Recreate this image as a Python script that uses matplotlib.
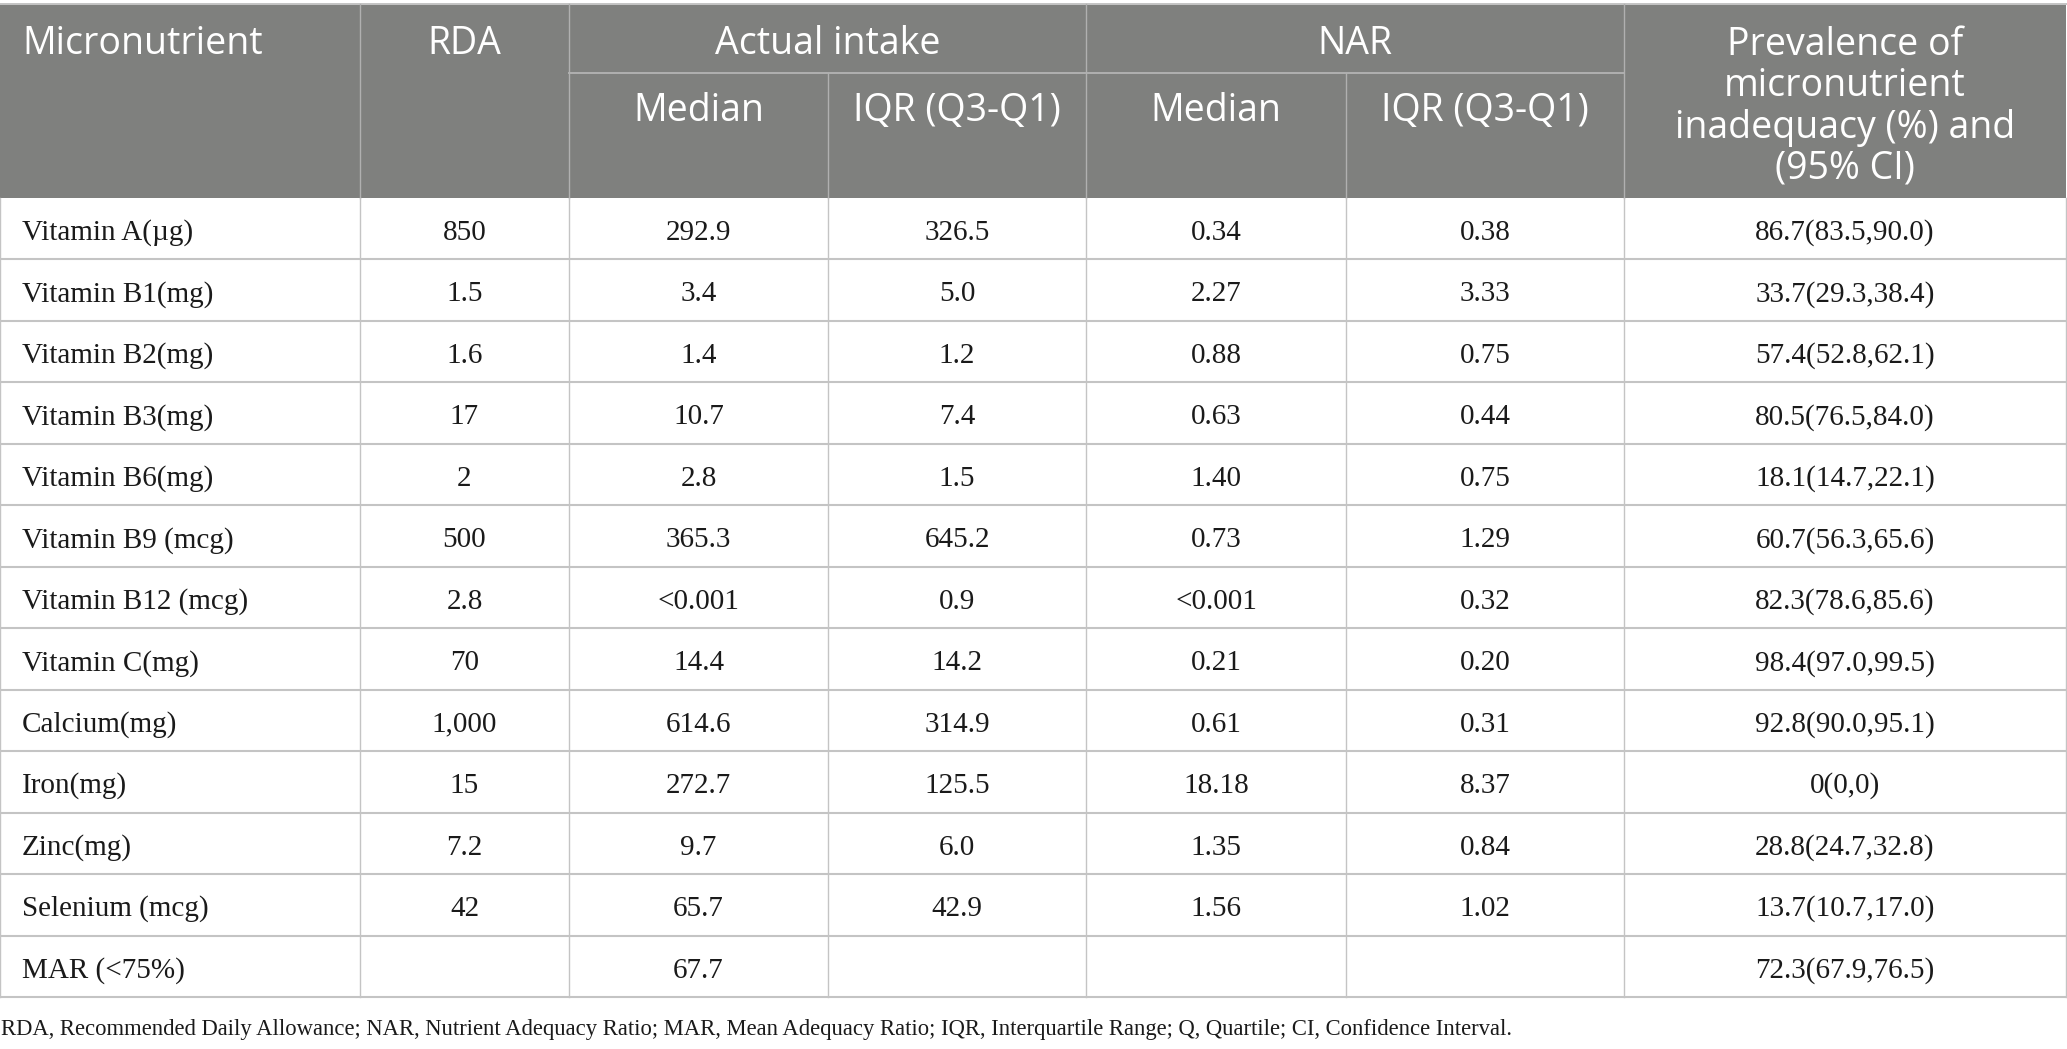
import matplotlib
matplotlib.use("Agg")
from matplotlib import pyplot as plt
from matplotlib.patches import Rectangle

# table content
nutrients = ["Vitamin A(\u00b5g)", "Vitamin B1(mg)", "Vitamin B2(mg)", "Vitamin B3(mg)", "Vitamin B6(mg)",
             "Vitamin B9 (mcg)", "Vitamin B12 (mcg)", "Vitamin C(mg)", "Calcium(mg)", "Iron(mg)",
             "Zinc(mg)", "Selenium (mcg)", "MAR (<75%)"]
rda = ["850", "1.5", "1.6", "17", "2", "500", "2.8", "70", "1,000", "15", "7.2", "42", ""]
intake_median = ["292.9", "3.4", "1.4", "10.7", "2.8", "365.3", "<0.001", "14.4", "614.6", "272.7", "9.7", "65.7", "67.7"]
intake_iqr = ["326.5", "5.0", "1.2", "7.4", "1.5", "645.2", "0.9", "14.2", "314.9", "125.5", "6.0", "42.9", ""]
nar_median = ["0.34", "2.27", "0.88", "0.63", "1.40", "0.73", "<0.001", "0.21", "0.61", "18.18", "1.35", "1.56", ""]
nar_iqr = ["0.38", "3.33", "0.75", "0.44", "0.75", "1.29", "0.32", "0.20", "0.31", "8.37", "0.84", "1.02", ""]
prevalence = ["86.7(83.5,90.0)", "33.7(29.3,38.4)", "57.4(52.8,62.1)", "80.5(76.5,84.0)", "18.1(14.7,22.1)",
              "60.7(56.3,65.6)", "82.3(78.6,85.6)", "98.4(97.0,99.5)", "92.8(90.0,95.1)", "0(0,0)",
              "28.8(24.7,32.8)", "13.7(10.7,17.0)", "72.3(67.9,76.5)"]

group_labels = ["Actual intake", "NAR"]
sub_labels = ["Median", "IQR (Q3-Q1)", "Median", "IQR (Q3-Q1)"]
prev_header = ["Prevalence of", "micronutrient", "inadequacy (%) and", "(95% CI)"]
footnote = ("RDA, Recommended Daily Allowance; NAR, Nutrient Adequacy Ratio; MAR, Mean Adequacy Ratio; "
            "IQR, Interquartile Range; Q, Quartile; CI, Confidence Interval.")

# layout in pixels
W, H = 2067, 1049
col_x = [0, 360, 569, 828, 1086, 1346, 1624, 2066]
head_top, head_mid, head_bot = 4, 73, 198
table_bot = 997
row_h = (table_bot - head_bot) / len(nutrients)

HEAD_GRAY = "#7f807e"
LINE = "#c4c4c4"
HEAD_LINE = "#b0b0b0"
head_font = dict(family=["Open Sans", "DejaVu Sans"], fontsize=27, color="white")
body_font = dict(family=["Liberation Serif", "DejaVu Serif"], fontsize=21, color="#1a1a1a")

fig = plt.figure(figsize=(W / 100, H / 100), dpi=100)
ax = fig.add_axes([0, 0, 1, 1])
ax.set_xlim(0, W)
ax.set_ylim(H, 0)
ax.axis("off")

# header block
ax.add_patch(Rectangle((0, head_top), col_x[-1], head_bot - head_top, color=HEAD_GRAY, lw=0))
ax.plot([0, col_x[-1]], [head_top, head_top], color=LINE, lw=1.4)
for x in col_x[1:-1]:
    if x in (828, 1346):
        ax.plot([x, x], [head_mid, head_bot], color=HEAD_LINE, lw=1.0)
    else:
        ax.plot([x, x], [head_top, head_bot], color=HEAD_LINE, lw=1.0)
ax.plot([col_x[2], col_x[6]], [head_mid, head_mid], color=HEAD_LINE, lw=1.4)

ax.text(22, 54, "Micronutrient", ha="left", va="baseline", **head_font)
ax.text((col_x[1] + col_x[2]) / 2, 54, "RDA", ha="center", va="baseline", **head_font)
for i, lab in enumerate(group_labels):
    xc = (col_x[2 + 2 * i] + col_x[4 + 2 * i]) / 2
    ax.text(xc, 54, lab, ha="center", va="baseline", **head_font)
for i, lab in enumerate(sub_labels):
    xc = (col_x[2 + i] + col_x[3 + i]) / 2
    ax.text(xc, 121, lab, ha="center", va="baseline", **head_font)
for i, lab in enumerate(prev_header):
    ax.text((col_x[6] + col_x[7]) / 2, 55 + 41.3 * i, lab, ha="center", va="baseline", **head_font)

# body
columns = [rda, intake_median, intake_iqr, nar_median, nar_iqr, prevalence]
for r in range(len(nutrients)):
    top = head_bot + r * row_h
    base = top + 42
    ax.text(22, base, nutrients[r], ha="left", va="baseline", **body_font)
    for c, col in enumerate(columns):
        xc = (col_x[c + 1] + col_x[c + 2]) / 2
        ax.text(xc, base, col[r], ha="center", va="baseline", **body_font)
    ax.plot([0, col_x[-1]], [top + row_h, top + row_h], color=LINE, lw=1.5)

for x in col_x:
    ax.plot([x, x], [head_bot, table_bot], color=LINE, lw=1.0)

ax.text(1, 1035, footnote, ha="left", va="baseline",
        family=["Liberation Serif", "DejaVu Serif"], fontsize=16.3, color="#1a1a1a")

fig.savefig("out.png", dpi=100)
